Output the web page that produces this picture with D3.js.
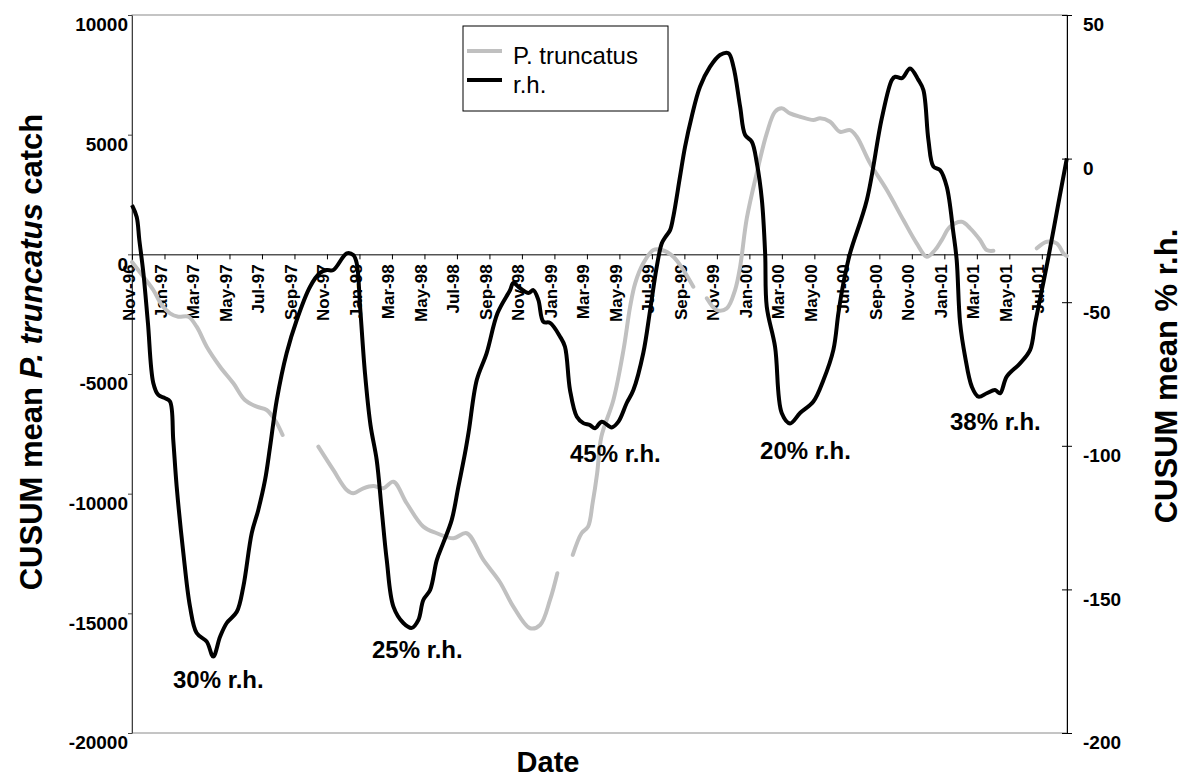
<!DOCTYPE html>
<html>
<head>
<meta charset="utf-8">
<script src="https://cdn.jsdelivr.net/npm/d3@7/dist/d3.min.js"></script>
<style>
  html, body { margin: 0; padding: 0; background: #fff; }
  svg { display: block; font-family: "Liberation Sans", Arial, sans-serif; }
</style>
</head>
<body>
<svg id="chart" width="1187" height="779"></svg>
<script>
// Month labels on the date axis (one every two months, starting Nov-96)
const monthLabels = ["Nov-96","Jan-97","Mar-97","May-97","Jul-97","Sep-97","Nov-97","Jan-98",
  "Mar-98","May-98","Jul-98","Sep-98","Nov-98","Jan-99","Mar-99","May-99","Jul-99","Sep-99",
  "Nov-99","Jan-00","Mar-00","May-00","Jul-00","Sep-00","Nov-00","Jan-01","Mar-01","May-01","Jul-01"];

const leftTicks = [-20000, -15000, -10000, -5000, 0, 5000, 10000];
const rightTicks = [-200, -150, -100, -50, 0, 50];

// CUSUM of mean % r.h. (months elapsed since 1 Nov 1996)
const rhMonth = [
  0,0.29,0.45,0.70,0.98,1.31,1.62,2.03,2.34,2.54,
  2.75,3.16,3.57,3.98,4.60,5.00,5.42,5.83,6.45,6.85,
  7.37,7.77,8.19,8.50,8.91,9.52,10.14,10.96,11.57,11.99,
  12.39,13.22,13.62,13.83,14.04,14.34,14.68,15.06,15.37,15.68,
  16.09,16.70,17.22,17.63,17.93,18.35,18.76,19.16,19.68,20.09,
  20.50,20.74,21.22,21.83,22.50,23.27,23.47,23.88,24.40,24.70,
  25.01,25.32,25.73,26.35,26.65,26.96,27.38,27.78,28.19,28.50,
  28.91,29.53,29.94,30.45,30.86,31.47,31.89,32.30,32.61,32.87,
  33.12,33.32,33.73,34.04,34.45,34.96,35.58,36.19,36.71,37.02,
  37.43,37.74,38.15,38.46,38.77,38.97,39.07,39.58,39.99,40.50,
  41.12,41.94,42.56,43.17,43.48,43.79,44.20,45.23,46.15,46.77,
  46.98,47.39,47.89,48.40,48.71,49.02,49.33,49.74,50.15,50.56,
  50.76,50.97,51.28,51.69,52.10,52.61,53.12,53.43,53.84,54.66,
  55.28,55.59,56.00,56.41,57.02,57.54];
const rhValue = [
  -16.2,-20.3,-28.3,-39.8,-57.2,-78.1,-82.3,-83.4,-84.6,-98.0,
  -114.2,-137.3,-156.0,-165.2,-168.2,-173.4,-166.5,-161.7,-157.8,-149.1,
  -130.4,-122.4,-111.9,-100.3,-84.1,-67.7,-56.2,-44.6,-39.8,-38.8,
  -38.8,-33.0,-33.6,-36.4,-51.6,-74.7,-92.8,-104.9,-122.4,-139.8,
  -156.0,-161.7,-163.4,-160.6,-153.7,-150.2,-139.8,-133.8,-125.8,-114.2,
  -102.5,-94.5,-77.1,-67.7,-53.8,-45.8,-43.3,-45.1,-46.8,-45.8,
  -49.2,-56.8,-57.2,-62.0,-65.5,-80.6,-89.9,-92.1,-92.8,-93.9,
  -91.6,-93.6,-91.6,-85.1,-80.6,-67.7,-52.8,-37.6,-29.5,-27.0,
  -24.9,-20.2,-6.3,4.1,14.6,25.0,32.0,36.1,36.7,32.0,
  18.1,8.2,5.9,-1.6,-14.4,-33.0,-51.6,-65.5,-88.6,-92.2,
  -88.6,-84.6,-77.1,-66.6,-53.8,-43.3,-32.9,-14.4,14.0,27.4,
  28.5,28.0,31.4,27.4,23.9,6.5,-2.8,-4.0,-9.8,-26.0,
  -35.3,-57.2,-69.0,-79.4,-82.9,-81.7,-80.6,-81.7,-75.9,-71.3,
  -66.6,-57.3,-45.8,-34.2,-15.6,0.1];

// CUSUM of mean P. truncatus catch; null marks a break in the record
const catchMonth = [
  0,0.70,1.31,1.83,2.34,2.85,3.47,3.98,4.60,5.42,6.24,6.95,7.68,8.29,8.80,9.27,
  10.4,
  11.47,12.39,13.22,13.62,14.24,14.85,15.47,16.09,16.91,17.93,18.76,19.78,20.60,21.63,22.65,23.47,24.50,25.12,25.73,26.18,
  26.6,
  27.13,27.67,28.07,28.35,28.63,28.89,29.63,30.25,30.66,30.97,31.47,32.09,32.61,33.32,33.94,34.55,
  35.0,
  35.38,35.99,36.61,37.12,37.43,37.84,38.45,39.07,39.58,39.99,40.50,41.12,41.94,42.35,42.97,43.58,44.20,44.61,45.43,46.46,47.48,48.30,48.92,49.43,49.84,50.35,51.07,51.59,52.20,52.61,53.02,
  54.5,
  55.69,56.31,56.92,57.33,57.54];
const catchValue = [
  -320,-936,-1491,-2118,-2464,-2607,-2607,-3024,-3860,-4695,-5388,-6086,-6366,-6504,-6922,-7548,
  null,
  -8037,-9010,-9846,-9983,-9775,-9679,-9775,-9499,-10401,-11378,-11654,-11863,-11654,-12769,-13700,-14720,-15622,-15485,-14440,-13325,
  null,
  -12561,-11654,-11378,-10401,-9148,-7619,-6086,-3998,-2189,-1211,-376,180,180,-100,-656,-1353,
  null,
  -1838,-2327,-2256,-1491,-518,1500,3383,5054,5957,6099,5890,5748,5610,5681,5539,5121,5192,4912,3801,2686,1433,459,-100,180,597,1153,1362,1086,597,180,150,
  null,
  251,526,459,42,-70];

// Minimum-humidity notes beside each trough: month position and r.h. axis level
const noteText = ["30% r.h.", "25% r.h.", "45% r.h.", "20% r.h.", "38% r.h."];
const noteMonth = [2.52, 14.77, 26.96, 38.66, 50.35];
const noteLevel = [-184.3, -173.9, -105.6, -104.6, -94.5];

const seriesNames = ["P. truncatus", "r.h."];

// ---- layout ----
const svg = d3.select("#chart");
const plot = { left: 132, right: 1067, top: 15, bottom: 733 };
const font = '"Liberation Sans", Arial, sans-serif';

const x = d3.scaleLinear().domain([0, 57.55]).range([plot.left, plot.right]);
const yL = d3.scaleLinear().domain([-20000, 10000]).range([plot.bottom, plot.top]);
const yR = d3.scaleLinear().domain([-200, 50]).range([plot.bottom, plot.top]);

// plain hyphen-minus for negative tick values
const plainNumber = d => String(d);

svg.append("rect").attr("width", 1187).attr("height", 779).attr("fill", "#fff");

// plot area frame
svg.append("rect")
  .attr("x", plot.left).attr("y", plot.top)
  .attr("width", plot.right - plot.left).attr("height", plot.bottom - plot.top)
  .attr("fill", "none").attr("stroke", "#8a8a8a").attr("stroke-width", 1);

// left axis
const gL = svg.append("g").attr("transform", `translate(${plot.left},0)`)
  .call(d3.axisLeft(yL).tickValues(leftTicks).tickSize(4).tickSizeOuter(0).tickFormat(plainNumber));
gL.select(".domain").attr("stroke", "#404040");
gL.selectAll(".tick line").attr("stroke", "#404040");
gL.selectAll(".tick text")
  .attr("x", -4).attr("dy", "0.84em")
  .style("font", `bold 19px ${font}`).attr("fill", "#000");

// right axis
const gR = svg.append("g").attr("transform", `translate(${plot.right},0)`)
  .call(d3.axisRight(yR).tickValues(rightTicks).tickSize(5).tickSizeOuter(0).tickFormat(plainNumber));
gR.select(".domain").attr("stroke", "#000");
gR.selectAll(".tick line").attr("x1", -5).attr("x2", 5).attr("stroke", "#000");
gR.selectAll(".tick text")
  .attr("x", 16).attr("dy", "0.84em")
  .style("font", `bold 19px ${font}`).attr("fill", "#000");

// date axis along the zero line of the catch scale
const gX = svg.append("g").attr("transform", `translate(0,${yL(0)})`)
  .call(d3.axisBottom(x).tickValues(d3.range(0, 57, 2)).tickSize(5).tickSizeOuter(0)
    .tickFormat((d, i) => monthLabels[i]));
gX.select(".domain").attr("stroke", "#000");
gX.selectAll(".tick line").attr("stroke", "#000");
gX.selectAll(".tick text")
  .attr("transform", "rotate(-90)")
  .attr("x", -10).attr("y", 2).attr("dy", 0)
  .style("text-anchor", "end")
  .style("font", `bold 17px ${font}`).attr("fill", "#000");

// series
const catchData = catchMonth.map((m, i) => [m, catchValue[i]]);
const rhData = rhMonth.map((m, i) => [m, rhValue[i]]);

const catchLine = d3.line()
  .defined(d => d[1] != null)
  .x(d => x(d[0])).y(d => yL(d[1]))
  .curve(d3.curveCatmullRom.alpha(0.5));
const rhLine = d3.line()
  .x(d => x(d[0])).y(d => yR(d[1]))
  .curve(d3.curveCatmullRom.alpha(0.5));

svg.append("path").datum(catchData)
  .attr("d", catchLine)
  .attr("fill", "none").attr("stroke", "#c0c0c0").attr("stroke-width", 4)
  .attr("stroke-linejoin", "round").attr("stroke-linecap", "round");

svg.append("path").datum(rhData)
  .attr("d", rhLine)
  .attr("fill", "none").attr("stroke", "#000").attr("stroke-width", 4)
  .attr("stroke-linejoin", "round");

// trough notes
svg.append("g").selectAll("text").data(noteText).join("text")
  .attr("x", (d, i) => x(noteMonth[i]))
  .attr("y", (d, i) => yR(noteLevel[i]))
  .style("font", `bold 24px ${font}`).attr("fill", "#000")
  .text(d => d);

// axis titles
svg.append("text")
  .attr("transform", `translate(42,352) rotate(-90)`)
  .attr("text-anchor", "middle")
  .style("font", `bold 31px ${font}`)
  .call(t => {
    t.append("tspan").text("CUSUM mean ");
    t.append("tspan").style("font-style", "italic").text("P. truncatus");
    t.append("tspan").text(" catch");
  });

svg.append("text")
  .attr("transform", `translate(1177,376) rotate(-90)`)
  .attr("text-anchor", "middle")
  .style("font", `bold 31px ${font}`)
  .text("CUSUM mean % r.h.");

svg.append("text")
  .attr("x", 548).attr("y", 772)
  .attr("text-anchor", "middle")
  .style("font", `bold 29px ${font}`)
  .text("Date");

// legend
const lg = svg.append("g").attr("transform", "translate(463,26)");
lg.append("rect").attr("width", 205).attr("height", 85)
  .attr("fill", "#fff").attr("stroke", "#000").attr("stroke-width", 1);
const legendColors = ["#c0c0c0", "#000"];
seriesNames.forEach((name, i) => {
  const yy = 25 + i * 29;
  lg.append("line").attr("x1", 4).attr("x2", 39).attr("y1", yy).attr("y2", yy)
    .attr("stroke", legendColors[i]).attr("stroke-width", 4);
  lg.append("text").attr("x", 50).attr("y", yy + 13)
    .style("font", `24px ${font}`).text(name);
});
</script>
</body>
</html>
